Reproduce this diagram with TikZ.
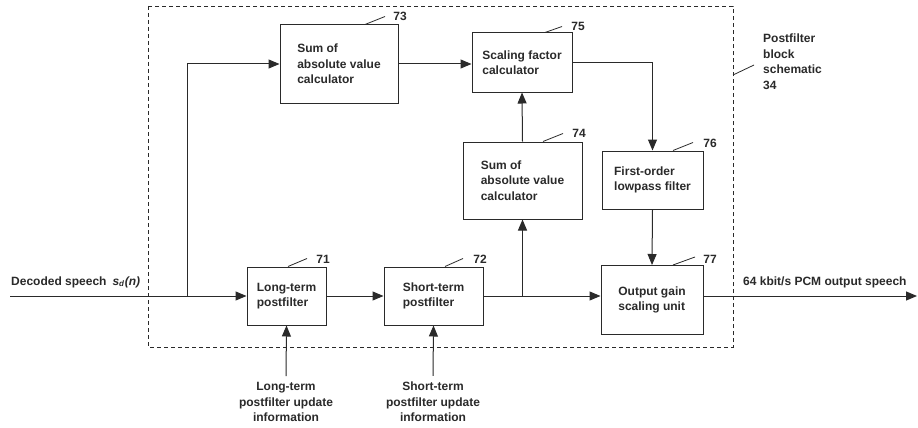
\documentclass[tikz,border=0pt]{standalone}
\usepackage{fontspec}
\setmainfont{Liberation Sans}
\usetikzlibrary{arrows.meta}
\definecolor{ink}{HTML}{2A2A2A}
\begin{document}
\begin{tikzpicture}[x=1pt,y=-1pt,
  every node/.style={font=\fontsize{12}{15.5}\selectfont\bfseries, text=ink},
  blk/.style={draw=ink, line width=1pt, align=left, inner sep=0pt},
  num/.style={anchor=center, inner sep=0.5pt},
  lab/.style={align=center, inner sep=1pt},
  wire/.style={draw=ink, line width=1pt},
  arr/.style={wire, -{Triangle[length=11pt,width=9pt]}},
  lead/.style={draw=ink, line width=0.8pt},
  frame/.style={draw=ink, line width=0.9pt, dash pattern=on 4pt off 3pt}
]
\useasboundingbox (0,0) rectangle (918,428);
\fill[white] (0,0) rectangle (918,428);

% dashed frame
\draw[frame] (148,6) rectangle (733,347);

% blocks
\node[blk, minimum width=118pt, minimum height=78pt] (b73) at (339,64) {Sum of\\absolute value\\calculator};
\node[blk, minimum width=100pt, minimum height=59pt] (b75) at (522,62.5) {Scaling factor\\calculator};
\node[blk, minimum width=119pt, minimum height=77pt] (b74) at (522.5,180.5) {Sum of\\absolute value\\calculator};
\node[blk, minimum width=101pt, minimum height=58pt] (b76) at (652.5,180) {First-order\\lowpass filter};
\node[blk, minimum width=79pt, minimum height=58pt] (b71) at (286.5,296) {Long-term\\postfilter};
\node[blk, minimum width=99pt, minimum height=58pt] (b72) at (433.5,296) {Short-term\\postfilter};
\node[blk, minimum width=102pt, minimum height=69pt] (b77) at (652,300) {Output gain\\scaling unit};

% reference numbers
\node[num] (n73) at (400,16) {73};
\node[num] (n75) at (578,26) {75};
\node[num] (n74) at (579,133) {74};
\node[num] (n76) at (710,143) {76};
\node[num] (n77) at (710,259) {77};
\node[num] (n71) at (323,259) {71};
\node[num] (n72) at (480,259) {72};
\draw[lead] ([xshift=26pt]b73.north) -- ++(20,-8);
\draw[lead] ([xshift=23pt]b75.north) -- ++(17,-6);
\draw[lead] ([xshift=20.5pt]b74.north) -- ++(20,-8);
\draw[lead] ([xshift=20.5pt]b76.north) -- ++(20,-8);
\draw[lead] ([xshift=21pt]b77.north) -- ++(22,-8);
\draw[lead] ([xshift=1.5pt]b71.north) -- ++(19,-8);
\draw[lead] ([xshift=11.5pt]b72.north) -- ++(18,-8);

% frame label
\node[align=left, anchor=north west, inner sep=0pt] (flab) at (763,34) {Postfilter\\block\\schematic\\34};
\draw[lead] (733,75) -- (754,65);

% input / output
\coordinate (in) at (10,296);
\coordinate (br) at (187,296);
\coordinate (out) at (917,296);
\node[anchor=west, inner sep=0pt] (inlab) at (11,282) {Decoded speech\hspace{6pt}\textit{s}\textsubscript{\textit{d}}\textit{(n)}};
\node[anchor=west, inner sep=0pt] (outlab) at (743,282) {64 kbit/s PCM output speech};

\draw[arr] (in) -- (b71.west);
\draw[arr] (br) |- (b73.west);
\draw[arr] (b73.east) -- (b75.west |- b73.east);
\draw[arr] (b75.east) -| (b76.north);
\draw[arr] (b74.north) -- (b75.south);
\draw[arr] (b71.east) -- (b72.west);
\draw[arr] (b72.east) -- (b77.west |- b72.east);
\coordinate (br2) at (b74.south |- b72.east);
\draw[arr] (br2) -- (b74.south);
\draw[arr] (b76.south) -- (b77.north);
\draw[arr] (b77.east |- b72.east) -- (out);

% bottom inputs
\node[lab] (l71) at (286,402) {Long-term\\postfilter update\\information};
\node[lab] (l72) at (433,402) {Short-term\\postfilter update\\information};
\draw[arr] ([yshift=5pt]l71.north) -- (b71.south);
\draw[arr] ([yshift=5pt]l72.north) -- (b72.south);
\end{tikzpicture}
\end{document}
